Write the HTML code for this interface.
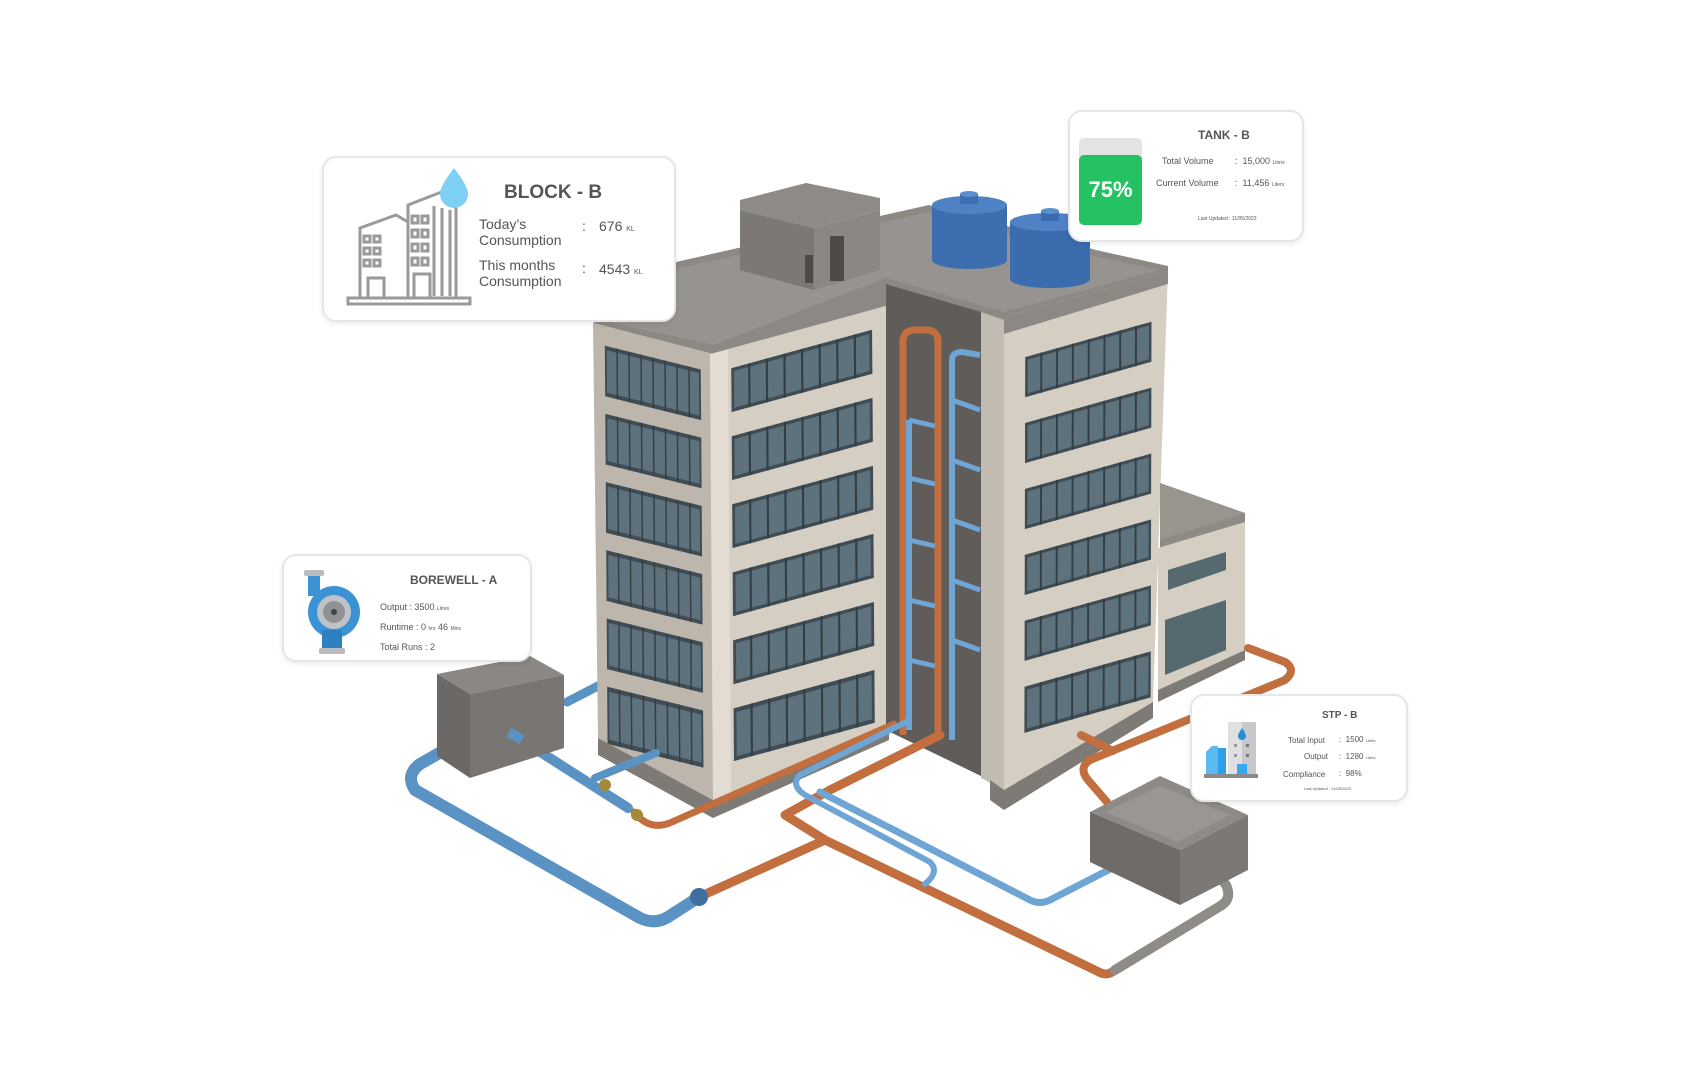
<!DOCTYPE html>
<html><head><meta charset="utf-8"><style>
html,body{margin:0;padding:0;background:#fff;width:1700px;height:1080px;overflow:hidden;font-family:"Liberation Sans",sans-serif;}
.card{position:absolute;background:#fff;border:2px solid #e6e6e6;border-radius:14px;box-shadow:0 2px 6px rgba(0,0,0,.08);color:#555;}
.t{position:absolute;white-space:nowrap;}
</style></head><body>
<svg width="1700" height="1080" viewBox="0 0 1700 1080" style="position:absolute;left:0;top:0">
<defs>
<g id="win">
 <rect x="0" y="0" width="1" height="1" fill="#3f4c53"/>
 <rect x="0.02" y="0.08" width="0.96" height="0.84" fill="#5d727c"/>
 <g fill="#333d42">
  <rect x="0.12" y="0" width="0.015" height="1"/><rect x="0.245" y="0" width="0.015" height="1"/>
  <rect x="0.37" y="0" width="0.015" height="1"/><rect x="0.495" y="0" width="0.015" height="1"/>
  <rect x="0.62" y="0" width="0.015" height="1"/><rect x="0.745" y="0" width="0.015" height="1"/>
  <rect x="0.87" y="0" width="0.015" height="1"/>
 </g>
</g>
</defs>
<path d="M567 702 L598 686" stroke="#5b92c4" stroke-width="9" fill="none" stroke-linecap="round"/>
<polygon points="593,323 676,262 929,205 1096,250 1168,266 1168,275 1004,320 886,284 886,306 713,354" fill="#8c8985"/>
<polygon points="600,320 680,268 929,212 1090,255 1160,270 1004,312 886,278 713,345" fill="#969390"/>
<polygon points="593,323 713,354 713,800 598,738" fill="#bdb6ac"/>
<g transform="matrix(117,29,3,440,593,323)">
 <use href="#win" transform="translate(0.1,0.045) scale(0.82,0.115)"/>
 <use href="#win" transform="translate(0.1,0.2) scale(0.82,0.115)"/>
 <use href="#win" transform="translate(0.1,0.355) scale(0.82,0.115)"/>
 <use href="#win" transform="translate(0.1,0.51) scale(0.82,0.115)"/>
 <use href="#win" transform="translate(0.1,0.665) scale(0.82,0.115)"/>
 <use href="#win" transform="translate(0.1,0.82) scale(0.82,0.13)"/>
</g>
<polygon points="710,354 886,306 889,724 713,800" fill="#d5cec3"/>
<polygon points="710,354 728,350 731,795 713,800" fill="#e2dcd2"/>
<g transform="matrix(176,-48,3,439,710,352)">
 <use href="#win" transform="translate(0.12,0.05) scale(0.8,0.1)"/>
 <use href="#win" transform="translate(0.12,0.205) scale(0.8,0.1)"/>
 <use href="#win" transform="translate(0.12,0.36) scale(0.8,0.1)"/>
 <use href="#win" transform="translate(0.12,0.515) scale(0.8,0.1)"/>
 <use href="#win" transform="translate(0.12,0.67) scale(0.8,0.1)"/>
 <use href="#win" transform="translate(0.12,0.825) scale(0.8,0.12)"/>
</g>
<polygon points="598,738 713,800 889,724 889,740 713,818 598,755" fill="#7e7a76"/>
<polygon points="886,284 981,312 981,776 886,730" fill="#5f5c59"/>
<polygon points="981,312 1004,320 1004,790 981,778" fill="#c2bbb1"/>
<path d="M903 735 L903 342 Q903 330 915 330 L926 330 Q938 330 938 342 L938 735" stroke="#c26e3e" stroke-width="7" fill="none"/>
<path d="M909 730 L909 420 M952 740 L952 360 Q952 352 962 352 L980 355" stroke="#6fa5d4" stroke-width="6" fill="none"/>
<path d="M909 420 L935 426 M909 478 L935 484 M909 540 L935 546 M909 600 L935 606 M909 660 L935 666 M952 400 L980 410 M952 460 L980 470 M952 520 L980 530 M952 580 L980 590 M952 640 L980 650" stroke="#6fa5d4" stroke-width="5" fill="none"/>
<polygon points="1004,317 1168,271 1153,702 1004,790" fill="#d5cec3"/>
<g transform="matrix(164,-46,-1,461,1004,317)">
 <use href="#win" transform="translate(0.13,0.1) scale(0.77,0.087)"/>
 <use href="#win" transform="translate(0.13,0.243) scale(0.77,0.087)"/>
 <use href="#win" transform="translate(0.13,0.386) scale(0.77,0.087)"/>
 <use href="#win" transform="translate(0.13,0.529) scale(0.77,0.087)"/>
 <use href="#win" transform="translate(0.13,0.672) scale(0.77,0.087)"/>
 <use href="#win" transform="translate(0.13,0.815) scale(0.77,0.1)"/>
</g>
<polygon points="1004,317 1168,271 1168,284 1004,334" fill="#8c8985"/>
<polygon points="990,780 1004,790 1153,702 1153,718 1004,810 990,800" fill="#7e7a76"/>
<polygon points="1160,483 1245,513 1245,525 1160,548" fill="#8e8b87"/>
<polygon points="1160,483 1230,508 1245,513 1160,540" fill="#98958f"/>
<polygon points="1158,548 1245,522 1245,650 1158,690" fill="#d5cec3"/>
<polygon points="1168,570 1226,552 1226,570 1168,590" fill="#55696f"/>
<polygon points="1165,620 1226,600 1226,650 1165,675" fill="#55696f"/>
<polygon points="1158,690 1245,650 1245,660 1158,702" fill="#7e7a76"/>
<polygon points="740,200 806,183 880,198 880,210 814,228 740,210" fill="#8e8b87"/>
<polygon points="740,210 814,228 814,290 740,270" fill="#7b7875"/>
<polygon points="814,228 880,210 880,270 814,290" fill="#8a8784"/>
<rect x="805" y="255" width="8" height="28" fill="#4d4a48"/>
<rect x="830" y="236" width="14" height="45" fill="#4d4a48"/>
<g>
 <rect x="932" y="205" width="75" height="55" fill="#3d6fb0"/>
 <ellipse cx="969.5" cy="260" rx="37.5" ry="9" fill="#3d6fb0"/>
 <ellipse cx="969.5" cy="205" rx="37.5" ry="9" fill="#4f82c4"/>
 <rect x="960" y="194" width="18" height="10" fill="#3d6fb0"/><ellipse cx="969" cy="194" rx="9" ry="3" fill="#5a8fd0"/>
 <rect x="1010" y="222" width="80" height="57" fill="#3a6cae"/>
 <ellipse cx="1050" cy="279" rx="40" ry="9" fill="#3a6cae"/>
 <ellipse cx="1050" cy="222" rx="40" ry="9" fill="#4f82c4"/>
 <rect x="1041" y="211" width="18" height="10" fill="#3a6cae"/><ellipse cx="1050" cy="211" rx="9" ry="3" fill="#5a8fd0"/>
</g>
<g fill="none" stroke-linecap="round" stroke-linejoin="round">
 <path d="M457 743 L420 764 Q405 775 415 790 L640 918 Q655 925 668 917 L699 897" stroke="#5b92c4" stroke-width="12"/>
 <path d="M699 897 L825 840 L785 815 L830 790 L940 735" stroke="#c26e3e" stroke-width="9"/>
 <path d="M825 840 L1101 973 Q1108 976 1115 970" stroke="#c26e3e" stroke-width="9"/>
 <path d="M1115 970 L1222 905 Q1232 898 1226 885 L1216 872 L1199 870" stroke="#8f8c88" stroke-width="10"/>
 <path d="M509 732 L628 808" stroke="#5b92c4" stroke-width="10"/>
 <path d="M634 812 Q650 832 672 822 L894 724" stroke="#c26e3e" stroke-width="7"/>
 <path d="M595 778 L656 753" stroke="#5b92c4" stroke-width="8"/>
 <path d="M906 722 L800 775 Q790 785 805 795 L930 862 Q940 872 925 884" stroke="#6fa5d4" stroke-width="6"/>
 <path d="M820 792 L1030 900 Q1040 905 1050 900 L1124 862" stroke="#6fa5d4" stroke-width="7"/>
 <path d="M1248 648 L1285 662 Q1297 670 1285 680 L1090 760 Q1078 768 1088 780 L1107 802" stroke="#c26e3e" stroke-width="8"/>
 <path d="M1081 735 L1113 751" stroke="#c26e3e" stroke-width="8"/>
 <circle cx="699" cy="897" r="9" fill="#3e6f9e" stroke="none"/>
 <circle cx="605" cy="785" r="6" fill="#a58a3a" stroke="none"/>
 <circle cx="637" cy="815" r="6" fill="#a58a3a" stroke="none"/>
</g>
<polygon points="437,674 530,656 564,675 470,694" fill="#8a8784"/>
<polygon points="437,674 470,694 470,778 437,756" fill="#6b6865"/>
<polygon points="470,694 564,675 564,748 470,778" fill="#787572"/>
<path d="M509 732 L522 740" stroke="#5b92c4" stroke-width="10"/>
<polygon points="1090,812 1160,776 1248,815 1180,850" fill="#8e8b87"/>
<polygon points="1105,812 1160,786 1230,815 1178,842" fill="#9a9793"/>
<polygon points="1090,812 1180,850 1180,905 1090,862" fill="#6e6b68"/>
<polygon points="1180,850 1248,815 1248,870 1180,905" fill="#7b7875"/>
</svg>

<div class="card" style="left:322px;top:156px;width:350px;height:162px;">
 <svg width="130" height="140" style="position:absolute;left:20px;top:10px" viewBox="0 0 130 140">
  <g fill="none" stroke="#9a9a9a" stroke-width="3">
   <path d="M16 130 L16 60 L52 47 L64 54 L64 130"/>
   <path d="M64 130 L64 37 L100 23 L112 30 L112 130"/>
   <path d="M4 130 L126 130 L126 136 L4 136 Z"/>
   <path d="M20 68 h6v6h-6z M30 68 h6v6h-6z M20 80 h6v6h-6z M30 80 h6v6h-6z M20 92 h6v6h-6z M30 92 h6v6h-6z"/>
   <path d="M68 48 h6v7h-6z M78 48 h6v7h-6z M68 62 h6v7h-6z M78 62 h6v7h-6z M68 76 h6v7h-6z M78 76 h6v7h-6z M68 90 h6v7h-6z M78 90 h6v7h-6z"/>
   <path d="M90 38 V128 M98 40 V128 M106 42 V128 M24 130 V110 h16 V130 M70 130 V106 h16 V130"/>
  </g>
  <path d="M110 0 Q96 18 96 26 A14 14 0 0 0 124 26 Q124 18 110 0 Z" fill="#7ed1f5"/>
 </svg>
 <div class="t" style="left:180px;top:24px;font-size:19px;font-weight:bold;">BLOCK - B</div>
 <div class="t" style="left:155px;top:58px;font-size:14px;line-height:16px;">Today’s<br>Consumption</div>
 <div class="t" style="left:258px;top:60px;font-size:14px;">:</div>
 <div class="t" style="left:275px;top:60px;font-size:14px;">676 <span style="font-size:7px">KL</span></div>
 <div class="t" style="left:155px;top:99px;font-size:14px;line-height:16px;">This months<br>Consumption</div>
 <div class="t" style="left:258px;top:102px;font-size:14px;">:</div>
 <div class="t" style="left:275px;top:103px;font-size:14px;">4543 <span style="font-size:7px">KL</span></div>
</div>

<div class="card" style="left:1068px;top:110px;width:232px;height:128px;">
 <div style="position:absolute;left:9px;top:26px;width:63px;height:72px;background:#e3e3e3;border-radius:5px;"></div>
 <div style="position:absolute;left:9px;top:43px;width:63px;height:70px;background:#24c262;border-radius:5px;color:#fff;font-size:22px;font-weight:bold;text-align:center;line-height:70px;">75%</div>
 <div class="t" style="left:128px;top:16px;font-size:12px;font-weight:bold;">TANK - B</div>
 <div class="t" style="left:92px;top:44px;font-size:9px;">Total Volume</div>
 <div class="t" style="left:165px;top:44px;font-size:9px;">: &nbsp;15,000 <span style="font-size:5px">Liters</span></div>
 <div class="t" style="left:86px;top:66px;font-size:9px;">Current Volume</div>
 <div class="t" style="left:165px;top:66px;font-size:9px;">: &nbsp;11,456 <span style="font-size:5px">Liters</span></div>
 <div class="t" style="left:128px;top:104px;font-size:5px;">Last Updated : 11/05/2023</div>
</div>

<div class="card" style="left:282px;top:554px;width:246px;height:104px;">
 <svg width="60" height="90" style="position:absolute;left:18px;top:12px" viewBox="0 0 60 90">
  <rect x="2" y="2" width="20" height="6" rx="2" fill="#b9bcc0"/>
  <rect x="6" y="8" width="12" height="20" fill="#3b93d6"/>
  <circle cx="32" cy="44" r="26" fill="#3b93d6"/>
  <rect x="20" y="62" width="20" height="18" fill="#2c7fc0"/>
  <rect x="17" y="80" width="26" height="6" rx="2" fill="#b9bcc0"/>
  <circle cx="32" cy="44" r="17" fill="#bfc2c6"/>
  <circle cx="32" cy="44" r="11" fill="#8e9196"/>
  <circle cx="32" cy="44" r="3" fill="#444"/>
 </svg>
 <div class="t" style="left:126px;top:17px;font-size:12px;font-weight:bold;">BOREWELL - A</div>
 <div class="t" style="left:96px;top:46px;font-size:9px;">Output : 3500 <span style="font-size:5px">Litres</span></div>
 <div class="t" style="left:96px;top:66px;font-size:9px;">Runtime : 0 <span style="font-size:5px">hrs</span> 46 <span style="font-size:5px">Mins</span></div>
 <div class="t" style="left:96px;top:86px;font-size:9px;">Total Runs : 2</div>
</div>

<div class="card" style="left:1190px;top:694px;width:214px;height:104px;">
 <svg width="56" height="60" style="position:absolute;left:12px;top:24px" viewBox="0 0 56 60">
  <rect x="24" y="2" width="28" height="54" fill="#e0e0e2"/>
  <rect x="38" y="2" width="14" height="54" fill="#c7c8cb"/>
  <path d="M38 8 Q34 14 34 16 A4 4 0 0 0 42 16 Q42 14 38 8Z" fill="#1e90d8"/>
  <rect x="30" y="24" width="3" height="3" fill="#999"/><rect x="42" y="24" width="3" height="3" fill="#777"/>
  <rect x="30" y="34" width="3" height="3" fill="#999"/><rect x="42" y="34" width="3" height="3" fill="#777"/>
  <rect x="33" y="44" width="10" height="12" fill="#35a8ef"/>
  <path d="M2 56 V32 L8 26 H14 V56Z" fill="#5ab9f0"/>
  <rect x="14" y="28" width="8" height="28" fill="#2fa0e6"/>
  <rect x="0" y="54" width="54" height="4" fill="#8a8a8a"/>
 </svg>
 <div class="t" style="left:130px;top:14px;font-size:10px;font-weight:bold;">STP - B</div>
 <div class="t" style="left:96px;top:40px;font-size:8px;">Total Input</div>
 <div class="t" style="left:147px;top:39px;font-size:8px;">: &nbsp;1500 <span style="font-size:4px">Litres</span></div>
 <div class="t" style="left:112px;top:56px;font-size:8px;">Output</div>
 <div class="t" style="left:147px;top:56px;font-size:8px;">: &nbsp;1280 <span style="font-size:4px">Litres</span></div>
 <div class="t" style="left:91px;top:74px;font-size:8px;">Compliance</div>
 <div class="t" style="left:147px;top:73px;font-size:8px;">: &nbsp;98%</div>
 <div class="t" style="left:112px;top:90px;font-size:4px;">Last Updated : 11/05/2023</div>
</div>
</body></html>
